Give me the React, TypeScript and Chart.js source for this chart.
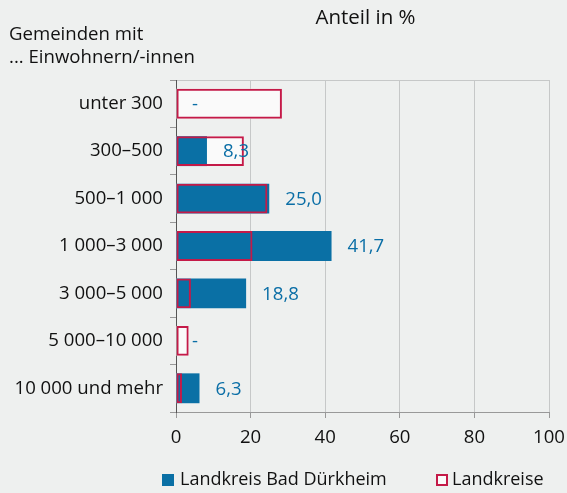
import React, { useEffect, useRef } from "react";
import { Chart, registerables } from "chart.js";

Chart.register(...registerables);

const categories = [
  "unter 300",
  "300–500",
  "500–1 000",
  "1 000–3 000",
  "3 000–5 000",
  "5 000–10 000",
  "10 000 und mehr",
];
const bdkValues = [0, 8.3, 25.0, 41.7, 18.8, 0, 6.3];
const landkreiseValues = [28.4, 18.2, 24.5, 20.5, 4.0, 3.4, 1.6];
const xTickValues = [0, 20, 40, 60, 80, 100];
const seriesNames = ["Landkreis Bad Dürkheim", "Landkreise"];
const headerTitle = "Anteil in %";
const headerLeft = ["Gemeinden mit", "... Einwohnern/-innen"];

const FONT = "'Open Sans', 'Noto Sans', sans-serif";
const FS = 18.6;
const BG = "#eef0ef";
const BLUE = "#0a70a5";
const RED = "#c41a48";
const LABEL_BLUE = "#0a6ea6";

const fmt = (v: number) => (v === 0 ? "-" : v.toFixed(1).replace(".", ","));

const decorPlugin = {
  id: "decor",
  beforeDraw(chart: any) {
    const { ctx, width, height } = chart;
    ctx.save();
    ctx.fillStyle = BG;
    ctx.fillRect(0, 0, width, height);
    ctx.restore();
  },
  afterDatasetsDraw(chart: any) {
    const { ctx } = chart;
    const meta = chart.getDatasetMeta(1);
    ctx.save();
    ctx.font = `${FS}px ${FONT}`;
    ctx.fillStyle = LABEL_BLUE;
    ctx.textAlign = "left";
    ctx.textBaseline = "middle";
    meta.data.forEach((el: any, i: number) => {
      ctx.fillText(fmt(bdkValues[i]), el.x + 16, el.y + 1);
    });
    ctx.restore();
  },
  afterDraw(chart: any) {
    const { ctx, chartArea } = chart;
    ctx.save();
    ctx.fillStyle = "#111";
    ctx.textBaseline = "alphabetic";
    ctx.font = `20.5px ${FONT}`;
    ctx.textAlign = "center";
    ctx.fillText(headerTitle, (chartArea.left + chartArea.right) / 2 + 3, 24);
    ctx.font = `${FS}px ${FONT}`;
    ctx.textAlign = "left";
    ctx.fillText(headerLeft[0], 9, 40);
    ctx.fillText(headerLeft[1], 9, 63);

    // legend
    const ly = chartArea.bottom + 62;
    const x0 = chartArea.left - 14;
    ctx.fillStyle = BLUE;
    ctx.fillRect(x0, ly, 12, 12);
    ctx.fillStyle = "#111";
    ctx.font = `18px ${FONT}`;
    ctx.fillText(seriesNames[0], x0 + 18, ly + 11);
    const x1 = chartArea.left + 260;
    ctx.fillStyle = "#fafafa";
    ctx.fillRect(x1, ly, 12, 12);
    ctx.strokeStyle = RED;
    ctx.lineWidth = 2;
    ctx.strokeRect(x1 + 1, ly + 1, 10, 10);
    ctx.fillStyle = "#111";
    ctx.fillText(seriesNames[1], x1 + 16, ly + 11);
    ctx.restore();
  },
};

export default function App() {
  const ref = useRef<HTMLCanvasElement>(null);
  useEffect(() => {
    if (!ref.current) return;
    const chart = new Chart(ref.current, {
      type: "bar",
      data: {
        labels: categories,
        datasets: [
          {
            label: seriesNames[1] + " border",
            data: landkreiseValues,
            backgroundColor: "rgba(0,0,0,0)",
            borderColor: RED,
            borderWidth: 2,
            borderSkipped: false,
            grouped: false,
            categoryPercentage: 1,
            barPercentage: 0.63,
          },
          {
            label: seriesNames[0],
            data: bdkValues,
            backgroundColor: BLUE,
            borderWidth: 0,
            grouped: false,
            categoryPercentage: 1,
            barPercentage: 0.63,
          },
          {
            label: seriesNames[1],
            data: landkreiseValues,
            backgroundColor: "#fafafa",
            borderWidth: 0,
            grouped: false,
            categoryPercentage: 1,
            barPercentage: 0.63,
          },
        ],
      },
      options: {
        indexAxis: "y",
        animation: false,
        responsive: false,
        maintainAspectRatio: false,
        layout: { padding: { top: 80, right: 0, left: 0, bottom: 0 } },
        plugins: {
          legend: { display: false },
          tooltip: { enabled: false },
          title: { display: false },
        },
        scales: {
          x: {
            min: 0,
            max: 100,
            afterBuildTicks: (scale: any) => {
              scale.ticks = xTickValues.map((v) => ({ value: v }));
            },
            afterFit: (scale: any) => {
              scale.height = 81;
              scale.paddingRight = 18;
              scale.paddingLeft = 0;
            },
            grid: {
              color: "#c6c8c8",
              tickColor: "#999",
              tickLength: 6,
              lineWidth: 1,
            },
            border: { color: "#999", width: 1 },
            ticks: {
              color: "#111",
              font: { family: FONT, size: FS },
              padding: 9,
              maxRotation: 0,
            },
          },
          y: {
            afterFit: (scale: any) => {
              scale.width = 176;
              scale.paddingTop = 0;
              scale.paddingBottom = 0;
            },
            offset: true,
            grid: {
              offset: true,
              drawOnChartArea: true,
              color: (c: any) => (c.index === 0 ? "#c6c8c8" : "rgba(0,0,0,0)"),
              tickColor: "#999",
              tickLength: 6,
            },
            border: { color: "#555", width: 1 },
            ticks: {
              color: "#111",
              font: { family: FONT, size: FS },
              padding: 7,
            },
          },
        },
      },
      plugins: [decorPlugin],
    });
    return () => chart.destroy();
  }, []);
  return (
    <div style={{ position: "fixed", left: 0, top: 0, width: 567, height: 493, background: BG }}>
      <canvas ref={ref} width={567} height={493} style={{ display: "block" }} />
    </div>
  );
}
